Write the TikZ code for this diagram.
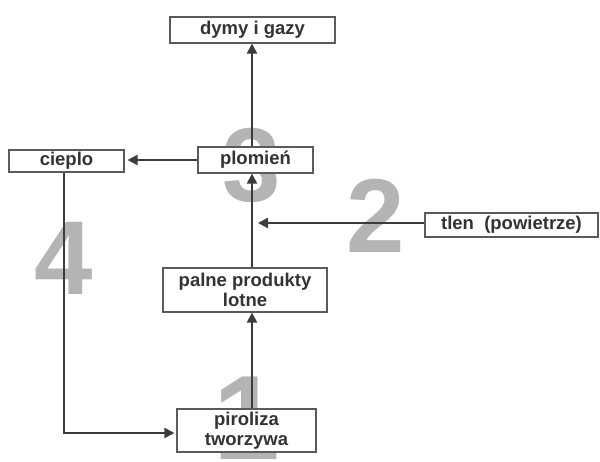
\documentclass[tikz,border=0pt]{standalone}
\usepackage{fontspec}
\setmainfont{Liberation Sans}
\usetikzlibrary{arrows.meta}
\definecolor{txt}{HTML}{333333}
\definecolor{bord}{HTML}{5A5A5A}
\definecolor{ln}{HTML}{3C3C3C}
\definecolor{num}{HTML}{B4B4B4}
\tikzset{
  box/.style={draw=bord, line width=1.2pt, fill=white, text=txt, inner sep=0pt,
    font=\fontsize{18.5}{19.5}\selectfont\bfseries, align=center},
  arr/.style={draw=ln, line width=2.2pt, -{Triangle[length=10pt,width=10pt]}},
  bignum/.style={text=num, font=\fontsize{105}{105}\selectfont\bfseries, inner sep=0pt}
}
\begin{document}
\begin{tikzpicture}[x=1pt,y=-1pt]
\useasboundingbox (0,0) rectangle (600,462);
\fill[white] (0,0) rectangle (600,462);
% big numbers
\node[bignum] (n3) at (252,165) {3};
\node[bignum] (n2) at (376,216) {2};
\node[bignum] (n4) at (64,258) {4};
\node[bignum, font=\fontsize{120}{120}\selectfont\bfseries, anchor=north] (n1) at (247,377) {1};
% boxes
\node[box, minimum width=165pt, minimum height=26pt] (dymy) at (252.5,30) {dymy i gazy};
\node[box, minimum width=115pt, minimum height=22pt] (cieplo) at (66.5,161) {cieplo};
\node[box, minimum width=115pt, minimum height=26pt] (plomien) at (255.5,160) {plomień};
\node[box, minimum width=173pt, minimum height=24pt] (tlen) at (511.5,225) {tlen\ \ (powietrze)};
\node[box, minimum width=164pt, minimum height=44pt] (palne) at (245,290) {palne produkty\\lotne};
\node[box, minimum width=139pt, minimum height=43pt] (piro) at (246.5,430.5) {piroliza\\tworzywa};
% helper coordinates
\coordinate (vx) at (252,0);
\coordinate (join) at (258,223);
\coordinate (corner) at (64,433);
% connectors
\draw[arr] (piro.north -| vx) -- (palne.south -| vx);
\draw[arr] (palne.north -| vx) -- (plomien.south -| vx);
\draw[arr] (tlen.west |- join) -- (join);
\draw[arr] (plomien.north -| vx) -- (dymy.south -| vx);
\draw[arr, shorten >=3pt] (plomien.west) -- (plomien.west -| cieplo.east);
\draw[arr, shorten >=2pt] (cieplo.south -| corner) -- (corner) -- (corner -| piro.west);
\end{tikzpicture}
\end{document}
